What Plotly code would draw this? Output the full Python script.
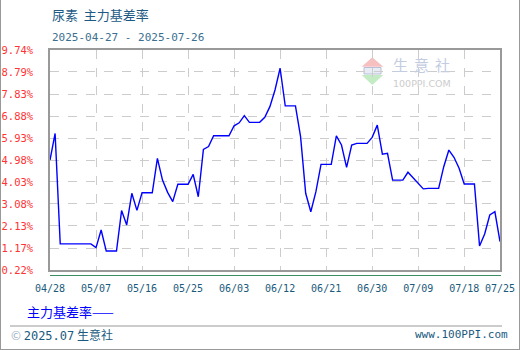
import plotly.graph_objects as go
import pandas as pd

start_date = "2025-04-28"
values = [
    4.98, 6.13, 1.35, 1.35, 1.35, 1.35, 1.35, 1.35, 1.35, 1.19,   # 04/28 - 05/07
    1.95, 1.04, 1.04, 1.04, 2.79, 2.17, 3.54, 2.80, 3.56, 3.56,   # 05/08 - 05/17
    3.56, 5.05, 4.11, 3.58, 3.18, 3.93, 3.93, 3.93, 4.36, 3.39,   # 05/18 - 05/27
    5.44, 5.56, 6.03, 6.03, 6.03, 6.03, 6.46, 6.59, 6.90, 6.61,   # 05/28 - 06/06
    6.61, 6.61, 6.83, 7.29, 8.01, 8.95, 7.32, 7.32, 7.32, 5.99,   # 06/07 - 06/16
    3.54, 2.74, 3.61, 4.79, 4.79, 4.79, 6.02, 5.63, 4.66, 5.63,   # 06/17 - 06/26
    5.70, 5.70, 5.70, 5.96, 6.49, 5.23, 5.27, 4.11, 4.11, 4.11,   # 06/27 - 07/06
    4.45, 4.21, 3.98, 3.73, 3.75, 3.75, 3.75, 4.69, 5.41, 5.10,   # 07/07 - 07/16
    4.62, 3.94, 3.94, 3.94, 1.26, 1.78, 2.60, 2.74, 1.45,         # 07/17 - 07/25
]
dates = pd.date_range(start_date, periods=len(values), freq="D")

y_ticks = [0.22, 1.17, 2.13, 3.08, 4.03, 4.98, 5.93, 6.88, 7.83, 8.79, 9.74]
y_labels = [f"{v:.2f}%" for v in y_ticks]
x_tick_dates = ["2025-04-28", "2025-05-07", "2025-05-16", "2025-05-25", "2025-06-03",
                "2025-06-12", "2025-06-21", "2025-06-30", "2025-07-09", "2025-07-18",
                "2025-07-25"]
x_tick_labels = ["04/28", "05/07", "05/16", "05/25", "06/03", "06/12", "06/21",
                 "06/30", "07/09", "07/18", "07/25"]

title_text = "尿素  主力基差率"
subtitle_text = "2025-04-27 - 2025-07-26"
series_name = "主力基差率"
wm_chars = ["生", "意", "社"]

W, H = 520, 350
L, R, T, B = 50, 500, 50, 270


def px(x):
    return (x - L) / (R - L)


def py(y):
    return (B - y) / (B - T)


fig = go.Figure()
fig.add_trace(go.Scatter(x=dates, y=values, mode="lines",
                         line=dict(color="#0000ff", width=1.4),
                         name=series_name, hoverinfo="skip"))

mono = "DejaVu Sans Mono"
cjk = "Noto Sans CJK SC"

fig.update_layout(
    width=W, height=H,
    margin=dict(l=L, r=W - R, t=T, b=H - B, autoexpand=False),
    paper_bgcolor="white", plot_bgcolor="white",
    showlegend=False,
    xaxis=dict(
        type="date", automargin=False,
        range=["2025-04-28", "2025-07-25"],
        tickvals=x_tick_dates, ticktext=x_tick_labels,
        showgrid=True, gridcolor="#cccccc", griddash="dash", gridwidth=1,
        showline=True, linecolor="#999999", linewidth=1.5, mirror=True,
        ticks="", zeroline=False,
        tickfont=dict(family=mono, size=10, color="#1a5a7a"),
        ticklabelstandoff=8,
    ),
    yaxis=dict(
        automargin=False,
        range=[0.22, 9.74],
        tickvals=y_ticks, ticktext=y_labels,
        showgrid=True, gridcolor="#cccccc", griddash="dash", gridwidth=1,
        showline=True, linecolor="#999999", linewidth=1.5, mirror=True,
        ticks="", zeroline=False,
        tickfont=dict(family=mono, size=10.5, color="#ff3333"),
        ticklabelstandoff=13,
    ),
)

shapes = [
    # outer border
    dict(type="line", x0=px(0.5), x1=px(0.5), y0=py(0), y1=py(349.5), line=dict(color="#999999", width=1)),
    dict(type="line", x0=px(519.5), x1=px(519.5), y0=py(0), y1=py(349.5), line=dict(color="#999999", width=1)),
    dict(type="line", x0=px(0), x1=px(520), y0=py(349.5), y1=py(349.5), line=dict(color="#999999", width=1)),
    # green base line
    dict(type="line", x0=px(50), x1=px(501), y0=py(275.5), y1=py(275.5), line=dict(color="#3c8c64", width=1.2)),
    # footer separator
    dict(type="line", x0=px(10), x1=px(502), y0=py(326), y1=py(326), line=dict(color="#999999", width=1)),
    # watermark logo
    dict(type="path", path=f"M {px(361.7)} {py(66.7)} L {px(383.3)} {py(66.7)} L {px(372.3)} {py(57.3)} Z",
         fillcolor="#f6c0c0", line=dict(width=0), layer="below"),
    dict(type="path", path=f"M {px(361.7)} {py(75)} L {px(383.3)} {py(75)} L {px(372.3)} {py(85)} Z",
         fillcolor="#c4ecc4", line=dict(width=0), layer="below"),
    dict(type="rect", x0=px(364), x1=px(381), y0=py(74), y1=py(67.5),
         fillcolor="#e8ecf4", line=dict(color="#b8c0d8", width=1), layer="below"),
]
for s in shapes:
    s.setdefault("xref", "paper")
    s.setdefault("yref", "paper")
fig.update_layout(shapes=shapes)

annos = [
    dict(text=title_text, x=px(50), y=py(15), xanchor="left", yanchor="middle",
         font=dict(family=cjk, size=13, color="#1c5a85")),
    dict(text=subtitle_text, x=px(50), y=py(37), xanchor="left", yanchor="middle",
         font=dict(family=mono, size=11, color="#3a6f8f")),
    dict(text=series_name + "——", x=px(25), y=py(311), xanchor="left", yanchor="middle",
         font=dict(family=cjk, size=13, color="#0000ff")),
    dict(text="<span style='color:#9ab0c0'>©</span> <span style='font-family:DejaVu Sans Mono'>2025.07</span> 生意社",
         x=px(9), y=py(334), xanchor="left", yanchor="middle",
         font=dict(family=cjk, size=12, color="#1a5a80")),
    dict(text="www.100PPI.com", x=px(510), y=py(334), xanchor="right", yanchor="middle",
         font=dict(family=mono, size=11, color="#1a5a80")),
    dict(text="100PPI.COM", x=px(422), y=py(76.5), xanchor="center", yanchor="top",
         borderpad=0, font=dict(family="DejaVu Sans", size=9.5, color="#cccccc")),
]
for cx, ch in zip([400, 421, 442], wm_chars):
    annos.append(dict(text=ch, x=px(cx), y=py(76), xanchor="center", yanchor="bottom",
                      borderpad=0, font=dict(family=cjk, size=15, color="#c4cce2")))
for a in annos:
    a.update(xref="paper", yref="paper", showarrow=False)
fig.update_layout(annotations=annos)

fig.write_html("out.html", config={"displayModeBar": False},
               post_script="document.body.style.margin='0';document.body.style.overflow='hidden';")
